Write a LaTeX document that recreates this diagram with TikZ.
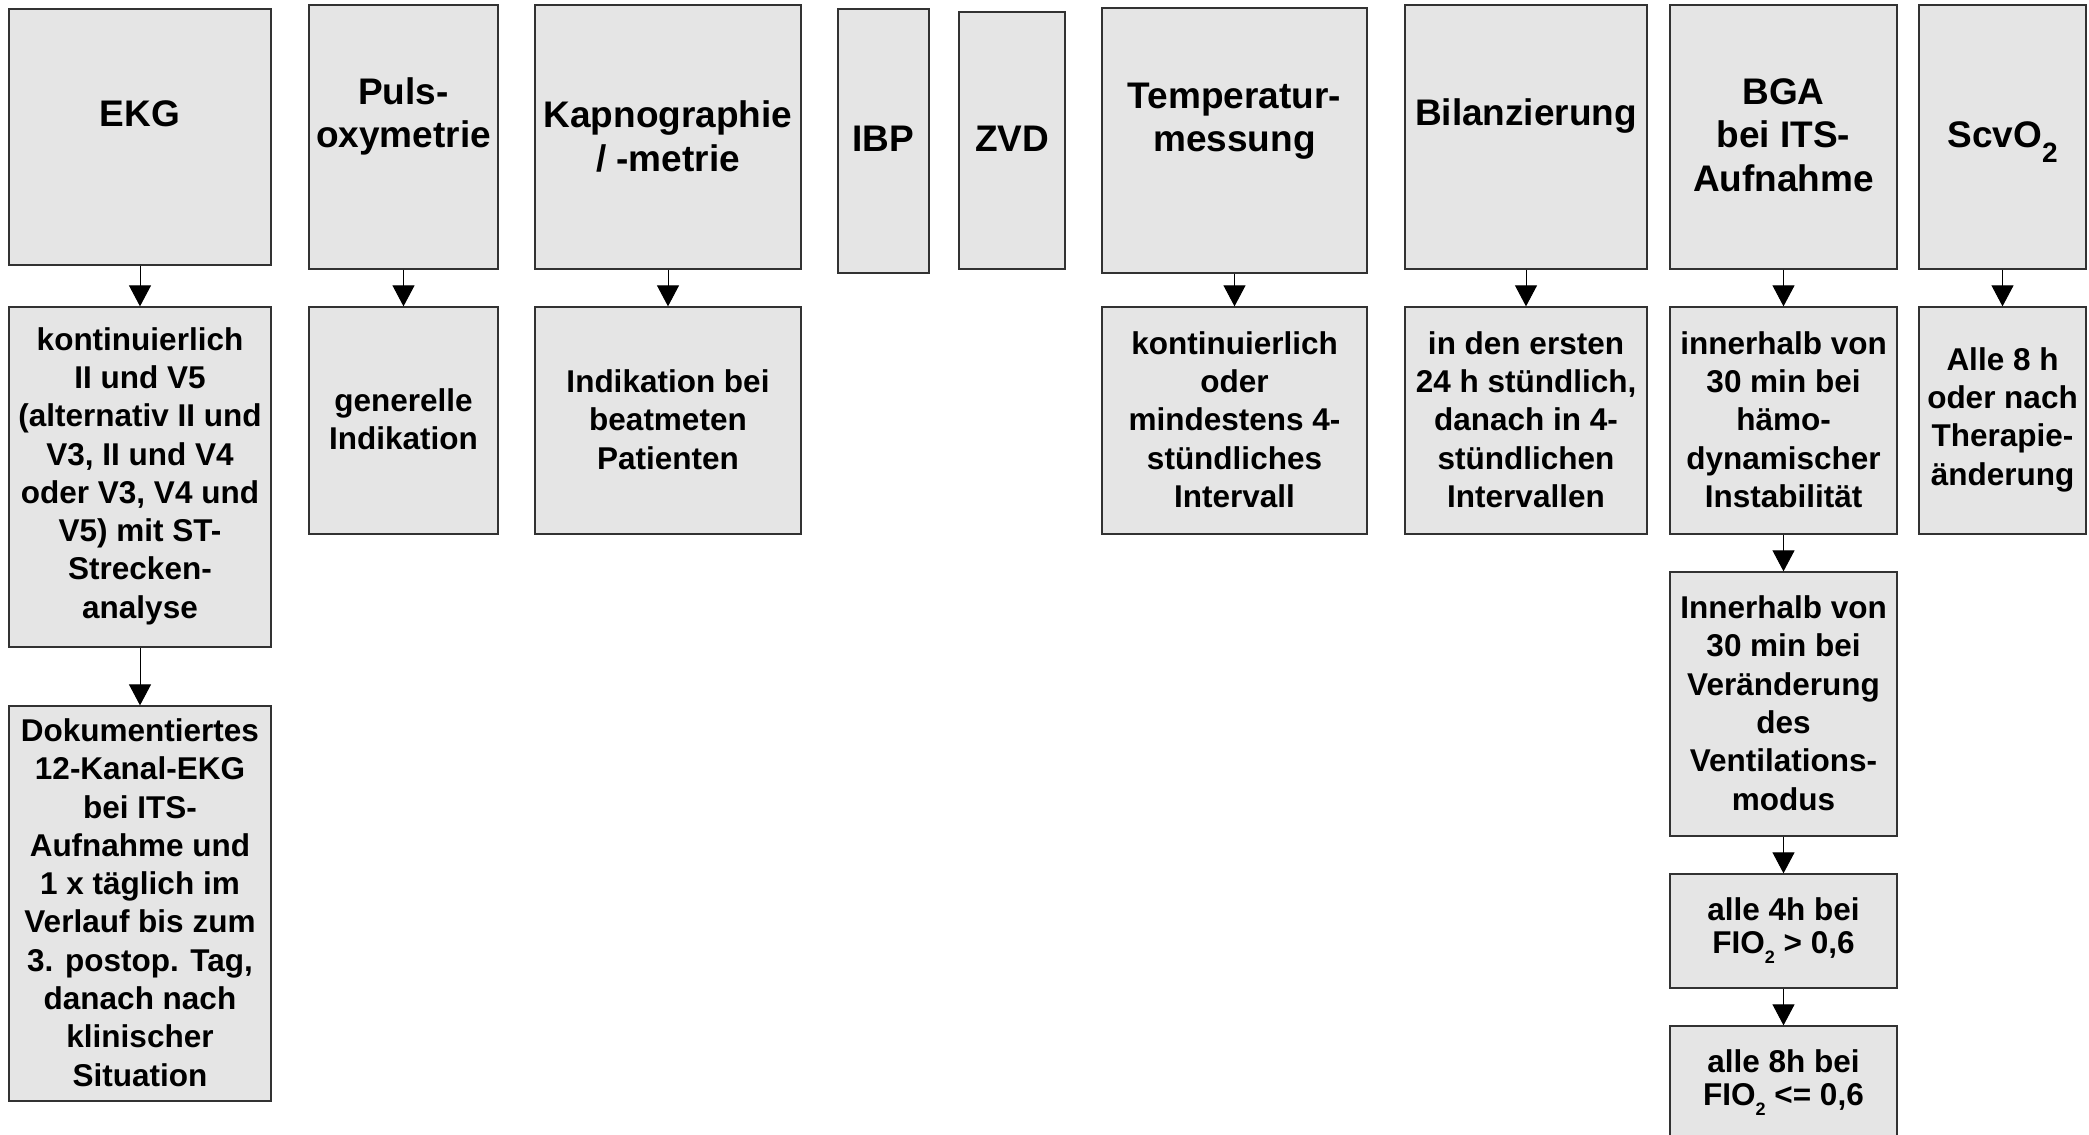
\documentclass[tikz,border=0pt]{standalone}
\usepackage{fontspec}
\setmainfont{Liberation Sans}
\usetikzlibrary{arrows.meta,fit}
\definecolor{boxfill}{RGB}{229,229,229}
\definecolor{boxline}{RGB}{50,50,50}
\newcommand{\subtwo}[2]{\raisebox{#2}{\fontsize{#1}{#1}\selectfont 2}}
\begin{document}
\begin{tikzpicture}[x=0.5pt,y=-0.5pt,
  box/.style={draw=boxline, fill=boxfill, line width=0.65pt, inner sep=0pt},
  title/.style={font=\fontsize{18.5}{21.7}\selectfont\bfseries, align=center, inner sep=0pt},
  body/.style={font=\fontsize{15.75}{19.15}\selectfont\bfseries, align=center, inner sep=0pt, yshift=0.5pt},
  tight/.style={font=\fontsize{15.75}{16.5}\selectfont\bfseries, align=center, inner sep=0pt},
  arr/.style={-{Triangle[width=11pt,length=10.5pt]}, line width=0.5pt, black}]
\useasboundingbox[fill=white] (0,0) rectangle (2089,1135);
% top row boxes
\node[box, fit={(9,9) (271,265)}] (ekg) {};
\node[box, fit={(309,5) (498,269)}] (puls) {};
\node[box, fit={(535,5) (801,269)}] (kap) {};
\node[box, fit={(838,9) (929,273)}] (ibp) {};
\node[box, fit={(959,12) (1065,269)}] (zvd) {};
\node[box, fit={(1102,8) (1367,273)}] (temp) {};
\node[box, fit={(1405,5) (1647,269)}] (bil) {};
\node[box, fit={(1670,5) (1897,269)}] (bga) {};
\node[box, fit={(1919,5) (2086,269)}] (scv) {};
% top row titles
\node[title] (ekgT) at (140,113.5) {EKG};
\node[title] (pulsT) at (403.5,116.5) {Puls-\\oxymetrie};
\node[title] (kapT) at (668,136.5) {Kapnographie\\/ -metrie};
\node[title] (ibpT) at (883.5,139) {IBP};
\node[title] (zvdT) at (1012,139) {ZVD};
\node[title] (tempT) at (1234.5,121) {Temperatur-\\messung};
\node[title] (bilT) at (1526,116) {Bilanzierung};
\node[title] (bgaT) at (1783.5,135) {BGA\\bei ITS-\\Aufnahme};
\node[title] (scvT) at (2002.5,142) {ScvO\subtwo{14pt}{-7.5pt}};
% second row boxes
\node[box, fit={(9,307) (271,647)}] (ekg2) {};
\node[box, fit={(309,307) (498,534)}] (puls2) {};
\node[box, fit={(535,307) (801,534)}] (kap2) {};
\node[box, fit={(1102,307) (1367,534)}] (temp2) {};
\node[box, fit={(1405,307) (1647,534)}] (bil2) {};
\node[box, fit={(1670,307) (1897,534)}] (bga2) {};
\node[box, fit={(1919,307) (2086,534)}] (scv2) {};
% further rows
\node[box, fit={(9,706) (271,1101)}] (ekg3) {};
\node[box, fit={(1670,572) (1897,836)}] (bga3) {};
\node[box, fit={(1670,874) (1897,988)}] (bga4) {};
\node[box, fit={(1670,1026) (1897,1140)}] (bga5) {};
% texts
\node[body] (ekg2t) at (ekg2.center) {kontinuierlich\\II und V5\\(alternativ II und\\V3, II und V4\\oder V3, V4 und\\V5) mit ST-\\Strecken-\\analyse};
\node[body] (puls2t) at (puls2.center) {generelle\\Indikation};
\node[body] (kap2t) at (kap2.center) {Indikation bei\\beatmeten\\Patienten};
\node[body] (temp2t) at (temp2.center) {kontinuierlich\\oder\\mindestens 4-\\stündliches\\Intervall};
\node[body] (bil2t) at (bil2.center) {in den ersten\\24 h stündlich,\\danach in 4-\\stündlichen\\Intervallen};
\node[body] (bga2t) at (bga2.center) {innerhalb von\\30 min bei\\hämo-\\dynamischer\\Instabilität};
\node[body] (scv2t) at (scv2.center) {Alle 8 h\\oder nach\\Therapie-\\änderung};
\node[body] (ekg3t) at (ekg3.center) {Dokumentiertes\\12-Kanal-EKG\\bei ITS-\\Aufnahme und\\1 x täglich im\\Verlauf bis zum\\3. postop. Tag,\\danach nach\\klinischer\\Situation};
\node[body] (bga3t) at (bga3.center) {Innerhalb von\\30 min bei\\Veränderung\\des\\Ventilations-\\modus};
\node[tight] (bga4t) at (bga4.center) {alle 4h bei\\FIO\subtwo{9pt}{-5pt} > 0,6};
\node[tight] (bga5t) at (bga5.center) {alle 8h bei\\FIO\subtwo{9pt}{-5pt} <= 0,6};
% arrows
\draw[arr] (ekg) -- (ekg2);
\draw[arr] (ekg2) -- (ekg3);
\draw[arr] (puls) -- (puls2);
\draw[arr] (kap) -- (kap2);
\draw[arr] (temp) -- (temp2);
\draw[arr] (bil) -- (bil2);
\draw[arr] (bga) -- (bga2);
\draw[arr] (bga2) -- (bga3);
\draw[arr] (bga3) -- (bga4);
\draw[arr] (bga4) -- (bga5);
\draw[arr] (scv) -- (scv2);
\end{tikzpicture}
\end{document}
